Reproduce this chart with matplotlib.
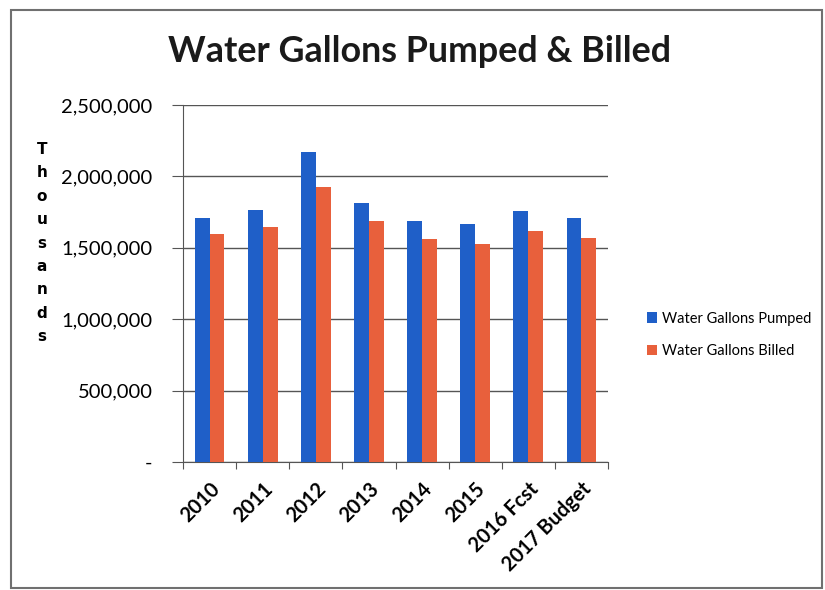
import matplotlib
matplotlib.use("Agg")
import matplotlib.pyplot as plt
import numpy as np
from matplotlib.patches import Rectangle
from matplotlib.ticker import FuncFormatter

categories = ["2010", "2011", "2012", "2013", "2014", "2015", "2016 Fcst", "2017 Budget"]
pumped = [1710000, 1768000, 2168000, 1814000, 1685000, 1664000, 1758000, 1706000]
billed = [1595000, 1645000, 1924000, 1688000, 1559000, 1529000, 1615000, 1571000]
yticks = [0, 500000, 1000000, 1500000, 2000000, 2500000]

W, H = 825, 590
fig = plt.figure(figsize=(W / 100, H / 100), dpi=100)
fig.patch.set_facecolor("white")

# outer border
fig.add_artist(Rectangle((11 / W, 1 - 588 / H), (822 - 11) / W, (588 - 10) / H,
                         transform=fig.transFigure, fill=False, edgecolor="#707070", lw=1.5))

ax = fig.add_axes([183 / W, 1 - 462 / H, (608 - 183) / W, (462 - 105) / H])
x = np.arange(len(categories))
bw = 0.28
ax.bar(x - bw / 2, pumped, bw, color="#1F5FC8", label="Water Gallons Pumped", zorder=3)
ax.bar(x + bw / 2, billed, bw, color="#E8603C", label="Water Gallons Billed", zorder=3)

ax.set_xlim(-0.5, len(categories) - 0.5)
ax.set_ylim(0, 2500000)
ax.set_yticks(yticks)
ax.yaxis.set_major_formatter(FuncFormatter(lambda v, p: "-" if v == 0 else f"{int(v):,}"))
ax.grid(axis="y", color="#555555", lw=1.0, zorder=0)
ax.set_axisbelow(True)
for s in ["top", "right"]:
    ax.spines[s].set_visible(False)
ax.spines["left"].set_color("#555555")
ax.spines["bottom"].set_color("#555555")
ax.tick_params(axis="y", length=8, color="#555555", labelsize=14.5, pad=14)
for lab in ax.get_yticklabels():
    lab.set_fontfamily("Lato")

ax.set_xticks(np.arange(len(categories) + 1) - 0.5, minor=False)
ax.set_xticklabels([])
ax.set_xticks(x, minor=True)
ax.set_xticklabels(categories, minor=True, rotation=45, ha="right", va="top",
                   rotation_mode="anchor", fontsize=14.5, fontfamily="Lato", fontweight="bold")
ax.tick_params(axis="x", which="major", length=5, color="#555555")
ax.tick_params(axis="x", which="minor", length=0, pad=12)

fig.text(420 / W, 1 - 52 / H, "Water Gallons Pumped & Billed", ha="center", va="center",
         fontsize=25.8, fontweight="bold", fontfamily="Lato", color="#1a1a1a")

# vertical stacked axis label
fig.text(42 / W, 1 - 243 / H, "\n".join("Thousands"), ha="center", va="center",
         fontsize=11, fontweight="bold", fontfamily="DejaVu Sans", linespacing=1.7)

leg = fig.legend(loc="center left", bbox_to_anchor=(634 / W, 1 - 335 / H), frameon=False,
                 handlelength=0.7, handleheight=0.7, handletextpad=0.3, labelspacing=1.3,
                 prop={"family": "Lato", "size": 10.5})

fig.savefig("out.png", dpi=100)
